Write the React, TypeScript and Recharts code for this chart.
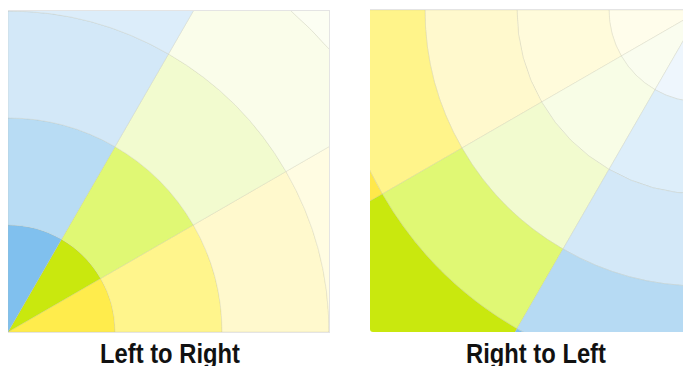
import { PieChart, Pie, Cell } from 'recharts';

// three equal wedges per ring, five rings per panel
const sectorNames = ['Yellow', 'Green', 'Blue'];
const sectorValues = [1, 1, 1];
const ringNames = ['Ring 1', 'Ring 2', 'Ring 3', 'Ring 4', 'Ring 5'];
const panelTitles = ['Left to Right', 'Right to Left'];

// colours per ring (inner -> outer), per wedge
const leftColors = [
  ['#ffec4c', '#c9e80e', '#80c0ee'],
  ['#fff58c', '#e0f874', '#b8dcf4'],
  ['#fff9cd', '#f2fbcf', '#d3e8f8'],
  ['#fffce2', '#fafdea', '#dcedfa'],
  ['#fffdf0', '#fcfef3', '#e8f3fc'],
];
const rightColors = [
  ['#fffdeb', '#fafdef', '#eef6fd'],
  ['#fffbdb', '#f8fde6', '#ddeefa'],
  ['#fff9cd', '#f2fbcf', '#d3e8f8'],
  ['#fff48a', '#e0f874', '#b6daf3'],
  ['#ffe84a', '#c9e80e', '#80c0ee'],
];

const data = sectorNames.map((name, i) => ({ name, value: sectorValues[i] }));

const STROKE = 'rgba(180,180,160,0.22)';

interface PanelProps {
  width: number;
  height: number;
  cx: number;
  cy: number;
  step: number;
  startAngle: number;
  endAngle: number;
  colors: string[][];
}

const FanPanel = ({ width, height, cx, cy, step, startAngle, endAngle, colors }: PanelProps) => (
  <PieChart width={width} height={height} margin={{ top: 0, right: 0, bottom: 0, left: 0 }}>
    {ringNames.map((ring, r) => (
      <Pie
        key={ring}
        name={ring}
        data={data}
        dataKey="value"
        cx={cx}
        cy={cy}
        innerRadius={r * step}
        outerRadius={r === ringNames.length - 1 ? (r + 1) * step + 60 : (r + 1) * step}
        startAngle={startAngle}
        endAngle={endAngle}
        paddingAngle={0}
        isAnimationActive={false}
        label={false}
        labelLine={false}
      >
        {data.map((d, i) => (
          <Cell key={d.name} fill={colors[r][i]} stroke={STROKE} strokeWidth={1} />
        ))}
      </Pie>
    ))}
  </PieChart>
);

const titleStyle: React.CSSProperties = {
  position: 'absolute',
  top: 326,
  width: 322,
  textAlign: 'center',
  fontFamily: '"Liberation Sans Narrow", "Arial Narrow", "Liberation Sans", Arial, sans-serif',
  fontWeight: 'bold',
  fontSize: 27,
  lineHeight: '40px',
  color: '#111',
  transform: 'scaleX(0.88)',
};

export default function App() {
  return (
    <div style={{ position: 'relative', width: 675, height: 358 }}>
      <div
        style={{
          position: 'absolute',
          left: -1,
          top: 2,
          width: 321,
          height: 321,
          border: '1px solid #e4e4e4',
          overflow: 'hidden',
        }}
      >
        <FanPanel width={321} height={321} cx={0} cy={321} step={107} startAngle={0} endAngle={90} colors={leftColors} />
      </div>
      <div
        style={{
          position: 'absolute',
          left: 362,
          top: 1,
          width: 321,
          height: 322,
          borderTop: '1px solid #e4e4e4',
          borderBottomLeftRadius: 3,
          overflow: 'hidden',
        }}
      >
        <FanPanel width={321} height={322} cx={331} cy={0} step={92} startAngle={180} endAngle={270} colors={rightColors} />
      </div>
      <div style={{ ...titleStyle, left: 1 }}>{panelTitles[0]}</div>
      <div style={{ ...titleStyle, left: 367 }}>{panelTitles[1]}</div>
    </div>
  );
}
